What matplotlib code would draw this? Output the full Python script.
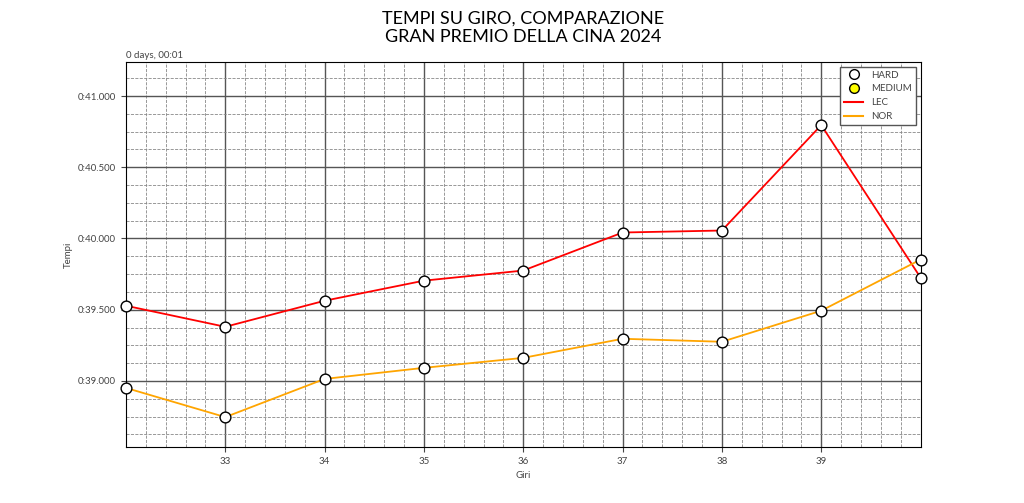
import matplotlib
matplotlib.use("Agg")
import matplotlib.pyplot as plt
from matplotlib.ticker import MultipleLocator, FuncFormatter
from matplotlib.lines import Line2D

plt.rcParams['font.family'] = ['Lato', 'DejaVu Sans']

laps = [32, 33, 34, 35, 36, 37, 38, 39, 40]
lec = [39.528, 39.380, 39.563, 39.704, 39.775, 40.042, 40.056, 40.796, 39.725]
nor = [38.951, 38.746, 39.014, 39.092, 39.162, 39.296, 39.275, 39.493, 39.852]

fig, ax = plt.subplots(figsize=(10.24, 5.03), dpi=100)
fig.subplots_adjust(left=0.123, right=0.899, top=0.877, bottom=0.111)

ax.plot(laps, lec, color='red', lw=1.3, zorder=3)
ax.plot(laps, nor, color='orange', lw=1.3, zorder=3)
ax.scatter(laps, lec, s=60, facecolor='white', edgecolor='black', lw=1, zorder=4, clip_on=False)
ax.scatter(laps, nor, s=60, facecolor='white', edgecolor='black', lw=1, zorder=4, clip_on=False)

ax.set_xlim(32, 40)
ax.set_ylim(38.535, 41.24)
ax.xaxis.set_major_locator(MultipleLocator(1))
ax.xaxis.set_minor_locator(MultipleLocator(0.2))
ax.yaxis.set_major_locator(MultipleLocator(0.5))
ax.yaxis.set_minor_locator(MultipleLocator(0.125))
ax.set_xticks([33, 34, 35, 36, 37, 38, 39])
ax.set_xticks([32 + 0.2 * i for i in range(41)], minor=True)
ax.yaxis.set_major_formatter(FuncFormatter(lambda v, p: "0:%06.3f" % v))
ax.tick_params(labelsize=7, colors='#444444')
ax.tick_params(which='minor', length=0)
ax.grid(which='major', color='#555555', lw=1)
ax.grid(which='minor', color='#888888', lw=0.6, ls='--')
ax.text(0, 1.005, "0 days, 00:01", transform=ax.transAxes, fontsize=7, color='#444444', va='bottom')

ax.set_xlabel("Giri", fontsize=7, color='#444444')
ax.set_ylabel("Tempi", fontsize=7, color='#444444')
ax.set_title("TEMPI SU GIRO, COMPARAZIONE\nGRAN PREMIO DELLA CINA 2024", fontsize=13, pad=14)

handles = [
    Line2D([], [], ls='', marker='o', mfc='white', mec='black', ms=7, label='HARD'),
    Line2D([], [], ls='', marker='o', mfc='yellow', mec='black', ms=7, label='MEDIUM'),
    Line2D([], [], color='red', label='LEC'),
    Line2D([], [], color='orange', label='NOR'),
]
leg = ax.legend(handles=handles, loc='upper right', fontsize=7, fancybox=False, edgecolor='#555555', framealpha=1)
for t in leg.get_texts():
    t.set_color('#444444')

fig.savefig("out.png", dpi=100)
